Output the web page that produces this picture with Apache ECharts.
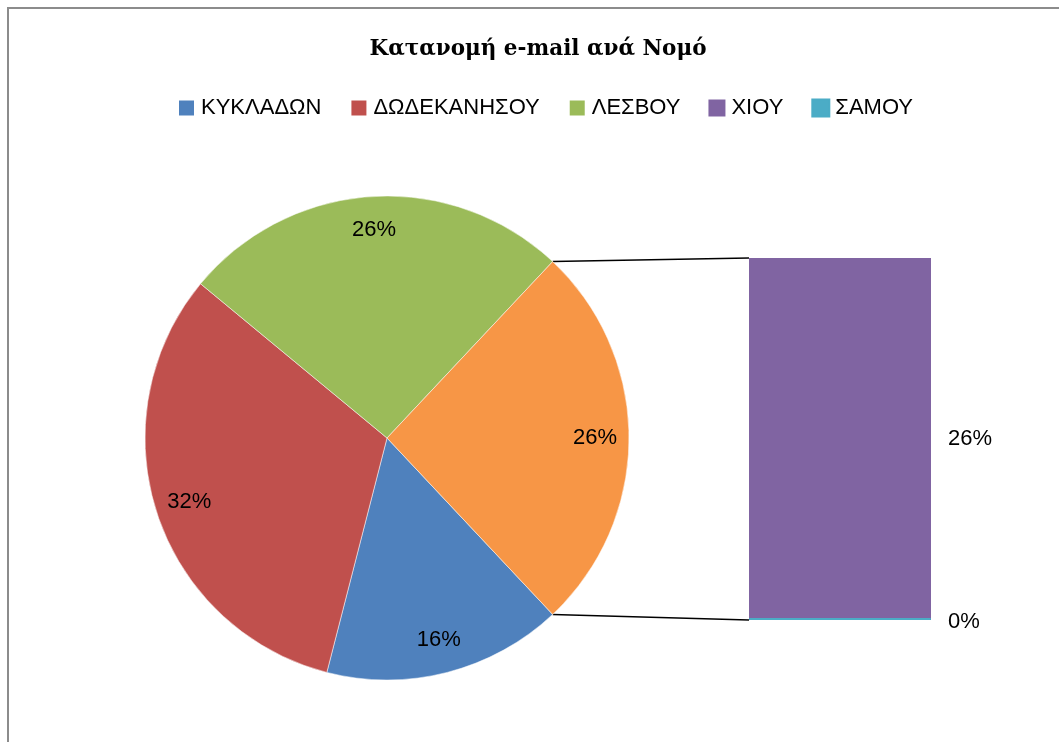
<!DOCTYPE html>
<html>
<head>
<meta charset="utf-8">
<style>
  html, body { margin: 0; padding: 0; background: #fff; }
  #main { width: 1059px; height: 742px; }
</style>
<script src="https://cdn.jsdelivr.net/npm/echarts@6/dist/echarts.min.js"></script>
</head>
<body>
<div id="main"></div>
<script>
// data
var categories = ['ΚΥΚΛΑΔΩΝ', 'ΔΩΔΕΚΑΝΗΣΟΥ', 'ΛΕΣΒΟΥ', 'ΧΙΟΥ', 'ΣΑΜΟΥ'];
var values = [16, 32, 26, 26, 0];
var colors = ['#4F81BD', '#C0504D', '#9BBB59', '#8064A2', '#4BACC6'];
var pieCount = 3;           // first three in the pie, the rest in the bar
var otherName = 'Λοιποί';
var otherColor = '#F79646';

var total = values.reduce(function (a, b) { return a + b; }, 0);
var restValues = values.slice(pieCount);
var restSum = restValues.reduce(function (a, b) { return a + b; }, 0);

function pct(v) { return Math.round(v / total * 100) + '%'; }

var pieData = categories.slice(0, pieCount).map(function (name, i) {
    return { name: name, value: values[i], itemStyle: { color: colors[i] } };
});
pieData.push({ name: otherName, value: restSum, itemStyle: { color: otherColor } });

var halfOther = restSum / total * 180;
var center = [387, 438];
var radius = 242;
var font = '"Liberation Sans", Arial, sans-serif';

var chartDom = document.getElementById('main');
var myChart = echarts.init(chartDom, null, { renderer: 'canvas' });

var barSeries = [];
// bottom of the stack first (ΣΑΜΟΥ), then ΧΙΟΥ
for (var i = categories.length - 1; i >= pieCount; i--) {
    var zero = values[i] === 0;
    barSeries.push({
        name: categories[i],
        type: 'bar',
        stack: 'rest',
        barWidth: '100%',
        barMinHeight: 2,
        silent: true,
        z: zero ? 3 : 2,
        itemStyle: { color: colors[i], borderColor: colors[i], borderWidth: zero ? 1 : 0 },
        label: {
            show: true,
            position: 'right',
            distance: 17,
            offset: zero ? [0, 3] : [0, 0],
            color: '#000',
            fontFamily: font,
            fontSize: 22,
            formatter: function (p) { return pct(p.value); }
        },
        data: [values[i]]
    });
}

var option = {
    animation: false,
    backgroundColor: '#fff',
    title: {
        text: 'Κατανομή e-mail ανά Νομό',
        left: 533,
        textAlign: 'center',
        top: 33,
        textStyle: {
            fontFamily: '"DejaVu Serif", "Liberation Serif", serif',
            fontWeight: 'bold',
            fontSize: 21.5,
            color: '#000'
        }
    },
    legend: {
        data: categories,
        left: 172,
        top: 92,
        icon: 'rect',
        itemWidth: 17,
        itemHeight: 17,
        itemGap: 28,
        selectedMode: false,
        textStyle: {
            fontFamily: font,
            fontSize: 22,
            color: '#000',
            padding: [0, 0, 0, 1]
        }
    },
    grid: {
        left: 749,
        top: 258,
        width: 182,
        height: 362
    },
    xAxis: {
        type: 'category',
        data: ['rest'],
        show: false
    },
    yAxis: {
        type: 'value',
        min: 0,
        max: restSum,
        show: false
    },
    series: [
        {
            type: 'pie',
            center: center,
            radius: [0, radius],
            startAngle: -halfOther,
            clockwise: true,
            silent: true,
            label: { show: false },
            labelLine: { show: false },
            itemStyle: { borderColor: '#fff', borderWidth: 0.5 },
            data: pieData
        },
        {
            // label ring, placed near the outer edge as in the picture
            type: 'pie',
            center: center,
            radius: [168, radius],
            startAngle: -halfOther,
            clockwise: true,
            silent: true,
            itemStyle: { color: 'rgba(0,0,0,0)' },
            label: {
                show: true,
                position: 'inside',
                color: '#000',
                fontFamily: font,
                fontSize: 22,
                formatter: function (p) { return pct(p.value); }
            },
            labelLine: { show: false },
            data: pieData.map(function (d) { return { name: d.name, value: d.value }; })
        }
    ].concat(barSeries)
};

option && myChart.setOption(option);

// connector lines from the "other" slice to the bar corners
var a = halfOther * Math.PI / 180;
var pTop = [center[0] + radius * Math.cos(a), center[1] - radius * Math.sin(a)];
var pBot = [center[0] + radius * Math.cos(a), center[1] + radius * Math.sin(a)];
var barTop = myChart.convertToPixel({ gridIndex: 0 }, [0, restSum]);
var barBot = myChart.convertToPixel({ gridIndex: 0 }, [0, 0]);
var barLeft = barTop[0] - 91;

myChart.setOption({
    graphic: [
        {
            type: 'rect',
            shape: { x: 8, y: 8, width: 1100, height: 800 },
            style: { fill: 'none', stroke: '#8c8c8c', lineWidth: 2 },
            silent: true
        },
        {
            type: 'line',
            shape: { x1: pTop[0], y1: pTop[1], x2: barLeft, y2: barTop[1] },
            style: { stroke: '#000', lineWidth: 1.5 },
            silent: true
        },
        {
            type: 'line',
            shape: { x1: pBot[0], y1: pBot[1], x2: barLeft, y2: barBot[1] },
            style: { stroke: '#000', lineWidth: 1.5 },
            silent: true
        }
    ]
});
</script>
</body>
</html>
